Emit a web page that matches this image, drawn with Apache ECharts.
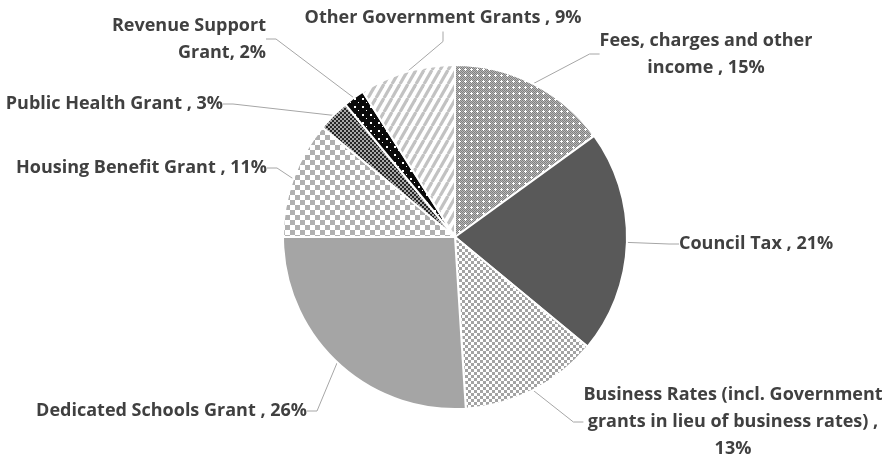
<!DOCTYPE html>
<html><head><meta charset="utf-8">
<script src="https://cdn.jsdelivr.net/npm/echarts@6/dist/echarts.min.js"></script>
<style>html,body{margin:0;padding:0;background:#fff}#c{width:888px;height:457px}</style>
</head><body><div id="c"></div>
<script>
const categories = ["Fees, charges and other income", "Council Tax", "Business Rates (incl. Government grants in lieu of business rates)", "Dedicated Schools Grant", "Housing Benefit Grant", "Public Health Grant", "Revenue Support Grant", "Other Government Grants"];
const values = [15, 21, 13, 26, 11, 3, 2, 9];
const labelTexts = ["Fees, charges and other\nincome , 15%", "Council Tax , 21%", "Business Rates (incl. Government\ngrants in lieu of business rates) ,\n13%", "Dedicated Schools Grant , 26%", "Housing Benefit Grant , 11%", "Public Health Grant , 3%", "Revenue Support\nGrant, 2%", "Other Government Grants , 9%"];

function tile(w, h, draw) {
  const c = document.createElement('canvas'); c.width = w; c.height = h;
  const g = c.getContext('2d'); draw(g, w, h); return {image: c, repeat: 'repeat'};
}
function checker(n, a, b) {
  return tile(2*n, 2*n, (g) => { g.fillStyle = b; g.fillRect(0,0,2*n,2*n); g.fillStyle = a; g.fillRect(0,0,n,n); g.fillRect(n,n,n,n); });
}
const patFees = tile(6, 6, (g) => {
  for (let y = 0; y < 6; y++) for (let x = 0; x < 6; x++) { g.fillStyle = ((x+y)%2) ? '#b8b8b8' : '#808080'; g.fillRect(x,y,1,1); }
  g.fillStyle = '#fff'; g.fillRect(3,2,1,3); g.fillRect(2,3,3,1);
});
const patBiz = checker(3, '#a3a3a3', '#ffffff');
const patHousing = checker(5, '#b0b0b0', '#ffffff');
const patHealth = checker(2, '#262626', '#a8a8a8');
const patRev = tile(8, 8, (g) => { g.fillStyle = '#0a0a0a'; g.fillRect(0,0,8,8); g.fillStyle = '#fff'; g.fillRect(2,2,2,2); g.fillRect(6,6,1,1); });
const patOther = tile(8, 14, (g, w, h) => {
  g.fillStyle = '#fff'; g.fillRect(0,0,w,h);
  g.strokeStyle = '#c2c2c2'; g.lineWidth = 3.2;
  for (let k = -1; k <= 3; k++) { g.beginPath(); g.moveTo(k*w, 0); g.lineTo((k-1)*w, h); g.stroke(); }
});
const fills = [patFees, '#595959', patBiz, '#a5a5a5', patHousing, patHealth, patRev, patOther];

const labelPos = [
  {x: 706, y: 54, align: 'center'},
  {x: 679, y: 244, align: 'left'},
  {x: 733, y: 422, align: 'center'},
  {x: 307, y: 411, align: 'right'},
  {x: 267, y: 168, align: 'right'},
  {x: 223, y: 104, align: 'right'},
  {x: 266, y: 39, align: 'right'},
  {x: 443, y: 18, align: 'center'}
];

const chart = echarts.init(document.getElementById('c'));
chart.setOption({
  animation: false,
  series: [{
    type: 'pie',
    center: [455, 237],
    radius: [0, 172],
    startAngle: 90,
    clockwise: true,
    avoidLabelOverlap: false,
    data: categories.map((n, i) => ({name: n, value: values[i], itemStyle: {color: fills[i]}})),
    itemStyle: {borderColor: '#fff', borderWidth: 2},
    label: {
      show: true,
      formatter: (p) => labelTexts[p.dataIndex],
      color: '#404040', fontFamily: 'Open Sans', fontWeight: 'bold', fontSize: 18, lineHeight: 27
    },
    labelLine: {show: true, length: 15, length2: 10, smooth: false, lineStyle: {color: '#a6a6a6', width: 1}},
    labelLayout: (params) => {
      const p = labelPos[params.dataIndex];
      return {x: p.x, y: p.y, align: p.align, verticalAlign: 'middle'};
    },
    emphasis: {disabled: true}
  }]
});
</script></body></html>
